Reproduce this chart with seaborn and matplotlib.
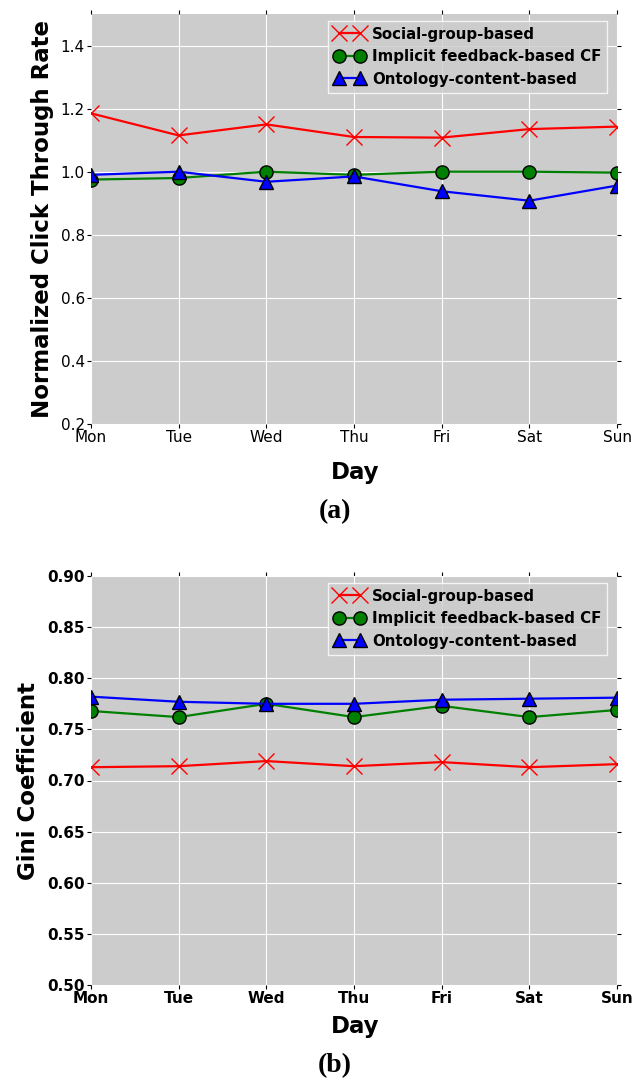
import numpy as np
import pandas as pd
import matplotlib
matplotlib.use("Agg")
import matplotlib.pyplot as plt
import seaborn as sns

# -----------------------------------------------------------------------------
# DATA
# -----------------------------------------------------------------------------
days = ["Mon", "Tue", "Wed", "Thu", "Fri", "Sat", "Sun"]
methods = ["Social-group-based", "Implicit feedback-based CF", "Ontology-content-based"]

ctr_social = [1.185, 1.115, 1.150, 1.110, 1.108, 1.135, 1.143]
ctr_implicit = [0.975, 0.980, 1.000, 0.990, 1.000, 1.000, 0.997]
ctr_ontology = [0.990, 1.000, 0.968, 0.985, 0.938, 0.908, 0.956]

gini_social = [0.713, 0.714, 0.719, 0.714, 0.718, 0.713, 0.716]
gini_implicit = [0.768, 0.762, 0.775, 0.762, 0.773, 0.762, 0.769]
gini_ontology = [0.782, 0.777, 0.775, 0.775, 0.779, 0.780, 0.781]

ctr_ticks = [0.2, 0.4, 0.6, 0.8, 1.0, 1.2, 1.4]
gini_ticks = [0.50, 0.55, 0.60, 0.65, 0.70, 0.75, 0.80, 0.85, 0.90]

# -----------------------------------------------------------------------------
# STYLE
# -----------------------------------------------------------------------------
sns.set_style("darkgrid", {
    "axes.facecolor": "#CCCCCC",
    "grid.color": "white",
    "grid.linewidth": 1.0,
})
plt.rcParams["font.family"] = ["DejaVu Sans"]
plt.rcParams["text.color"] = "black"
plt.rcParams["axes.labelcolor"] = "black"
plt.rcParams["xtick.color"] = "black"
plt.rcParams["ytick.color"] = "black"

styles = [
    dict(color="red", marker="x", markersize=11, markeredgewidth=1.0,
         markeredgecolor="red"),
    dict(color="green", marker="o", markersize=9.5, markeredgewidth=1.0,
         markeredgecolor="black"),
    dict(color="blue", marker="^", markersize=9.5, markeredgewidth=1.0,
         markeredgecolor="black"),
]

fig = plt.figure(figsize=(6.35, 10.84), dpi=100)
W, H = 635.0, 1084.0


def draw_panel(ax, series, ylim, yticks, ylabel, fmt, bold_ticks, tag,
               label_y, tag_y):
    x = np.arange(len(days))
    for name, values, st in zip(methods, series, styles):
        df = pd.DataFrame({"x": x, "y": values})
        sns.lineplot(data=df, x="x", y="y", ax=ax, label=name,
                     linewidth=1.6, **st)
    # markers at the edges are cut by the axes box, as in the original
    for line in ax.get_lines():
        line.set_clip_on(True)

    ax.set_xlim(0, len(days) - 1)
    ax.set_ylim(*ylim)
    ax.set_xticks(x)
    ax.set_yticks(yticks)
    weight = "bold" if bold_ticks else "normal"
    ax.set_xticklabels(days, fontsize=11, fontweight=weight)
    ax.set_yticklabels([fmt.format(v) for v in yticks], fontsize=11,
                       fontweight=weight)
    ax.tick_params(axis="both", which="both", direction="out", length=3,
                   width=0.8, color="black", top=True, right=True,
                   bottom=True, left=True, pad=1.5)
    for sp in ax.spines.values():
        sp.set_visible(False)

    ax.set_xlabel("")
    ax.set_ylabel(ylabel, fontsize=16.5, fontweight="bold", labelpad=5)

    handles, labels = ax.get_legend_handles_labels()
    leg = ax.legend(handles, labels, loc="upper right", numpoints=2,
                    bbox_to_anchor=(0.99, 0.995), frameon=True,
                    fancybox=False, borderpad=0.4, labelspacing=0.5,
                    handlelength=2.0, handletextpad=0.5, borderaxespad=0.3,
                    prop={"weight": "bold", "size": 10.8})
    leg.get_frame().set_facecolor("#CCCCCC")
    leg.get_frame().set_edgecolor("white")
    leg.get_frame().set_linewidth(1.0)

    fig.text(355 / W, 1 - label_y / H, "Day", ha="center", va="center",
             fontsize=16.5, fontweight="bold")
    fig.text(335 / W, 1 - tag_y / H, tag, ha="center", va="center",
             fontsize=20, fontweight="bold", family="Liberation Serif")


ax1 = fig.add_axes([91 / W, 1 - 424 / H, 526 / W, 410 / H])
draw_panel(ax1, [ctr_social, ctr_implicit, ctr_ontology], (0.2, 1.5),
           ctr_ticks, "Normalized Click Through Rate", "{:.1f}", False,
           "(a)", 472, 512)

ax2 = fig.add_axes([91 / W, 1 - 985 / H, 526 / W, 409 / H])
draw_panel(ax2, [gini_social, gini_implicit, gini_ontology], (0.5, 0.9),
           gini_ticks, "Gini Coefficient", "{:.2f}", True,
           "(b)", 1027, 1066)

fig.savefig("out.png", dpi=100)
